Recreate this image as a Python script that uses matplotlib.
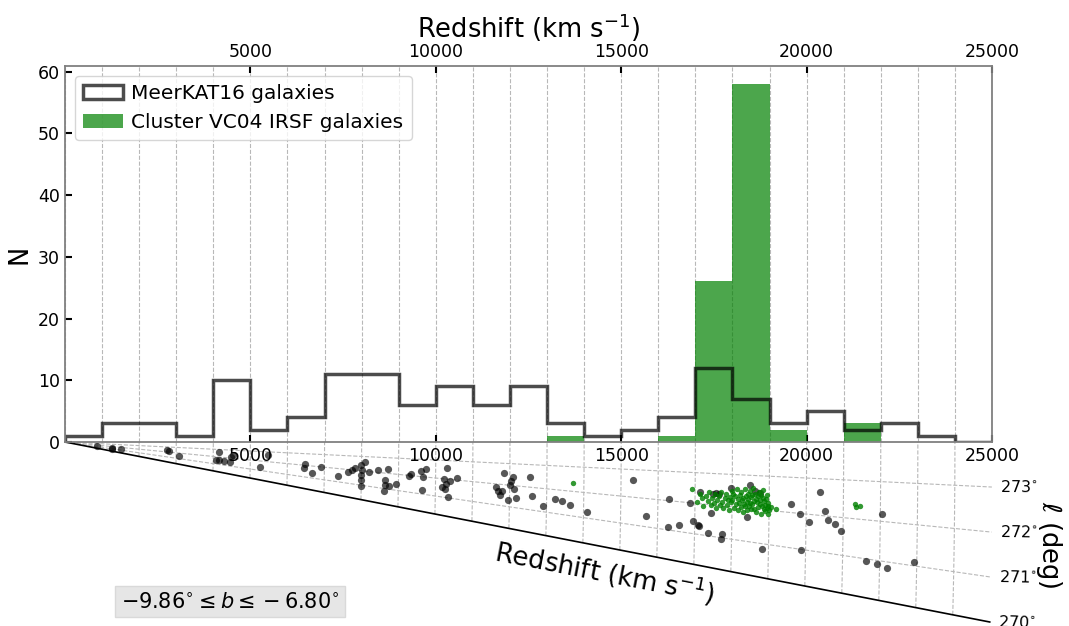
import numpy as np
import matplotlib
matplotlib.use("Agg")
import matplotlib.pyplot as plt
from matplotlib.transforms import Affine2D
from matplotlib.projections import PolarAxes
from matplotlib.ticker import MultipleLocator
import mpl_toolkits.axisartist.floating_axes as floating_axes
from mpl_toolkits.axisartist.grid_finder import FixedLocator, DictFormatter

# ---------------- data ----------------
bin_edges = list(range(0, 25001, 1000))
meerkat_counts = [1, 3, 3, 1, 10, 2, 4, 11, 11, 6, 9, 6, 9, 3, 1, 2, 4, 12, 7, 3, 5, 2, 3, 1, 0]
cluster_counts = [0, 0, 0, 0, 0, 0, 0, 0, 0, 0, 0, 0, 0, 1, 0, 0, 1, 26, 58, 2, 0, 3, 0, 0, 0]

# wedge: MeerKAT16 galaxies (redshift km/s, galactic longitude deg)
mk_v = [855, 1259, 1276, 1502, 2743, 2813, 3083, 4153, 4064, 4162, 4296, 4450, 4477, 4539,
        5483, 5259, 6473, 6454, 6670, 6896, 7371, 7641, 7732, 7821, 7975, 8091, 8002, 8002,
        8002, 7983, 8207, 8450, 8719, 8630, 8649, 8612, 8746, 8946, 9286, 9332, 9593, 9736,
        9663, 9636, 10294, 10230, 10383, 10294, 10187, 10267, 10564, 10356, 11848, 12074,
        12021, 12002, 12118, 11643, 11686, 11751, 11794, 11956, 12182, 12541, 12603, 12919,
        13234, 13423, 13639, 14097, 15327, 15688, 16290, 16271, 16568, 16875, 16945, 17080,
        17126, 17350, 17738, 17711, 17126, 17441, 17962, 18402, 18474, 18609, 18744, 18817,
        19580, 19869, 19823, 20074, 20362, 20516, 20597, 20794, 20947, 21622, 21927, 22204,
        22043, 22925, 17485, 17646, 17557]
mk_l = [271.60, 271.49, 270.82, 271.30, 272.38, 272.28, 271.53, 272.62, 271.50, 271.60, 271.58,
        271.54, 272.18, 272.41, 272.68, 271.39, 272.11, 271.74, 271.39, 272.01, 271.42, 271.80,
        271.99, 272.13, 272.40, 272.65, 272.06, 271.71, 271.36, 270.96, 271.95, 272.16, 272.28,
        271.56, 271.24, 270.86, 271.19, 271.39, 271.99, 272.10, 272.32, 272.44, 271.97, 271.23,
        272.61, 271.98, 271.93, 271.73, 271.53, 271.46, 272.11, 271.04, 272.53, 272.40, 272.21,
        272.00, 271.83, 271.87, 271.69, 271.50, 271.71, 271.31, 271.46, 272.44, 271.62, 271.25,
        271.60, 271.57, 271.45, 271.25, 272.62, 271.38, 272.05, 271.11, 271.22, 271.98, 271.41,
        271.30, 271.29, 271.08, 271.11, 270.95, 272.39, 271.75, 272.57, 271.73, 272.71, 272.54,
        272.50, 270.84, 272.23, 270.97, 271.98, 271.79, 272.63, 272.14, 271.90, 271.81, 271.64,
        270.94, 270.90, 270.86, 272.18, 271.09, 272.35, 272.36, 272.38]

# wedge: cluster VC04 IRSF galaxies
cl_v = [13693, 16929,
        17050, 17120, 17180, 17230, 17290, 17340, 17380, 17420, 17460, 17500, 17530, 17570, 17600,
        17640, 17680, 17710, 17740, 17770, 17800, 17830, 17860, 17880, 17910, 17940, 17960, 17990,
        18010, 18030, 18060, 18080, 18100, 18120, 18150, 18170, 18190, 18210, 18230, 18250, 18270,
        18290, 18300, 18320, 18340, 18350, 18370, 18390, 18400, 18420, 18440, 18450, 18470, 18490,
        18500, 18520, 18540, 18550, 18570, 18590, 18600, 18620, 18640, 18650, 18670, 18690, 18700,
        18720, 18740, 18750, 18770, 18790, 18800, 18820, 18840, 18850, 18870, 18890, 18900, 18920,
        18940, 18950, 18960, 18970, 18980, 18990,
        19050, 19194, 21306, 21460, 21333]
cl_l = [272.33, 272.45,
        272.05, 272.31, 272.18, 271.95, 272.27, 272.12, 272.40, 271.98, 272.22, 272.08, 272.35,
        271.90, 272.16, 272.29, 272.02, 272.44, 272.11, 271.93, 272.25, 272.37, 272.05, 272.19,
        271.88, 272.30, 272.14, 272.48,
        272.20, 272.41, 271.97, 272.33, 272.09, 272.55, 272.26, 271.91, 272.15, 272.38, 272.02,
        272.47, 272.23, 271.86, 272.31, 272.12, 272.59, 272.05, 272.36, 272.19, 271.94, 272.44,
        272.27, 272.08, 272.52, 272.17, 272.34, 271.99, 272.40, 272.13, 272.62, 272.24, 272.01,
        272.46, 272.30, 271.92, 272.21, 272.39, 272.07, 272.53, 272.16, 272.28, 271.88, 272.43,
        272.11, 272.35, 272.58, 272.03, 272.25, 272.14, 271.96, 272.32, 272.45, 272.06, 271.90,
        272.22, 272.12, 272.00,
        272.10, 272.06, 272.38, 272.34, 272.32]

l_ticks = [270, 271, 272, 273]
v_grid = list(range(0, 25001, 1000))
x_ticks = [5000, 10000, 15000, 20000, 25000]

# ---------------- figure ----------------
W, H = 1069, 626
fig = plt.figure(figsize=(W / 100, H / 100), dpi=100)

def px_rect(x0, y0, x1, y1):
    return [x0 / W, 1 - y1 / H, (x1 - x0) / W, (y1 - y0) / H]

# wedge (cone) diagram
tr = (Affine2D().translate(-274, 0) + Affine2D().scale(np.pi / 180, 1)
      + PolarAxes.PolarTransform(apply_theta_transforms=False))
grid_helper = floating_axes.GridHelperCurveLinear(
    tr, extremes=(270, 274, 0, 25000),
    grid_locator1=FixedLocator(l_ticks),
    tick_formatter1=DictFormatter({t: r"$%d^{\circ}$" % t for t in l_ticks}),
    grid_locator2=FixedLocator(v_grid),
    tick_formatter2=None)

wx0, wx1, wy0, wy1 = 65, 992, 442, 622
dx, dy = (wx1 - wx0) * 0.01, (wy1 - wy0) * 0.01
axw = fig.add_axes(px_rect(wx0 - dx, wy0 - dy, wx1 + dx, wy1 + dy),
                   axes_class=floating_axes.FloatingAxes, grid_helper=grid_helper)
axw.set_aspect("auto")
axw.axis["bottom"].set_visible(False)
axw.axis["right"].set_visible(False)
axw.axis["left"].toggle(ticks=False, ticklabels=False, label=False)
axw.axis["left"].line.set_color("k")
axw.axis["left"].line.set_linewidth(1.2)
axw.axis["top"].set_axis_direction("right")
axw.axis["top"].toggle(ticks=False, ticklabels=True, label=False)
axw.axis["top"].line.set_visible(False)
axw.axis["top"].major_ticklabels.set_fontsize(11.5)
axw.axis["top"].major_ticklabels.set_pad(6)
axw.grid(True, linestyle="--", color="0.72", linewidth=0.8)

aux = axw.get_aux_axes(tr)
aux.scatter(mk_l, mk_v, s=27, color="k", alpha=0.66, linewidths=0, zorder=3)
aux.scatter(cl_l, cl_v, s=15, color="green", alpha=0.8, linewidths=0, zorder=4)

fig.text(605 / W, 1 - 572 / H, r"Redshift (km s$^{-1}$)", rotation=-11,
         fontsize=18.5, ha="center", va="center", rotation_mode="anchor")
fig.text(1049 / W, 1 - 545 / H, r"$\ell$ (deg)", rotation=270,
         fontsize=18.5, ha="center", va="center")
fig.text(230 / W, 1 - 601.5 / H, r"$-9.86^{\circ} \leq b \leq -6.80^{\circ}$",
         fontsize=15, ha="center", va="center",
         bbox=dict(boxstyle="square,pad=0.25", fc="0.9", ec="0.85"))

# histogram
axh = fig.add_axes(px_rect(65, 66, 992, 442))
centers = [(a + b) / 2 for a, b in zip(bin_edges[:-1], bin_edges[1:])]
_, _, bars = axh.hist(centers, bins=bin_edges, weights=cluster_counts,
                      histtype="bar", color="green", alpha=0.7)
_, _, steps = axh.hist(centers, bins=bin_edges, weights=meerkat_counts,
                       histtype="step", color="k", alpha=0.7, linewidth=2.5)
axh.set_xlim(0, 25000)
axh.set_ylim(0, 60.9)
axh.set_xticks(x_ticks)
axh.xaxis.set_minor_locator(MultipleLocator(1000))
axh.set_yticks([0, 10, 20, 30, 40, 50, 60])
axh.set_axisbelow(True)
axh.grid(True, which="both", axis="x", linestyle="--", color="0.72", linewidth=0.8)
axh.tick_params(axis="both", which="major", direction="in", labelsize=12.5,
                length=5, width=1.5, top=True, labeltop=True, bottom=True, labelbottom=True)
axh.tick_params(axis="x", which="minor", length=0)
for sp in axh.spines.values():
    sp.set_color("0.5")
    sp.set_linewidth(1.3)
axh.set_xlabel(r"Redshift (km s$^{-1}$)", fontsize=18.5)
axh.xaxis.set_label_position("top")
axh.set_ylabel("N", fontsize=18.5)
axh.legend([steps[0], bars], ["MeerKAT16 galaxies", "Cluster VC04 IRSF galaxies"],
           loc="upper left", fontsize=14.5, handletextpad=0.4)

fig.savefig("out.png", dpi=100)
